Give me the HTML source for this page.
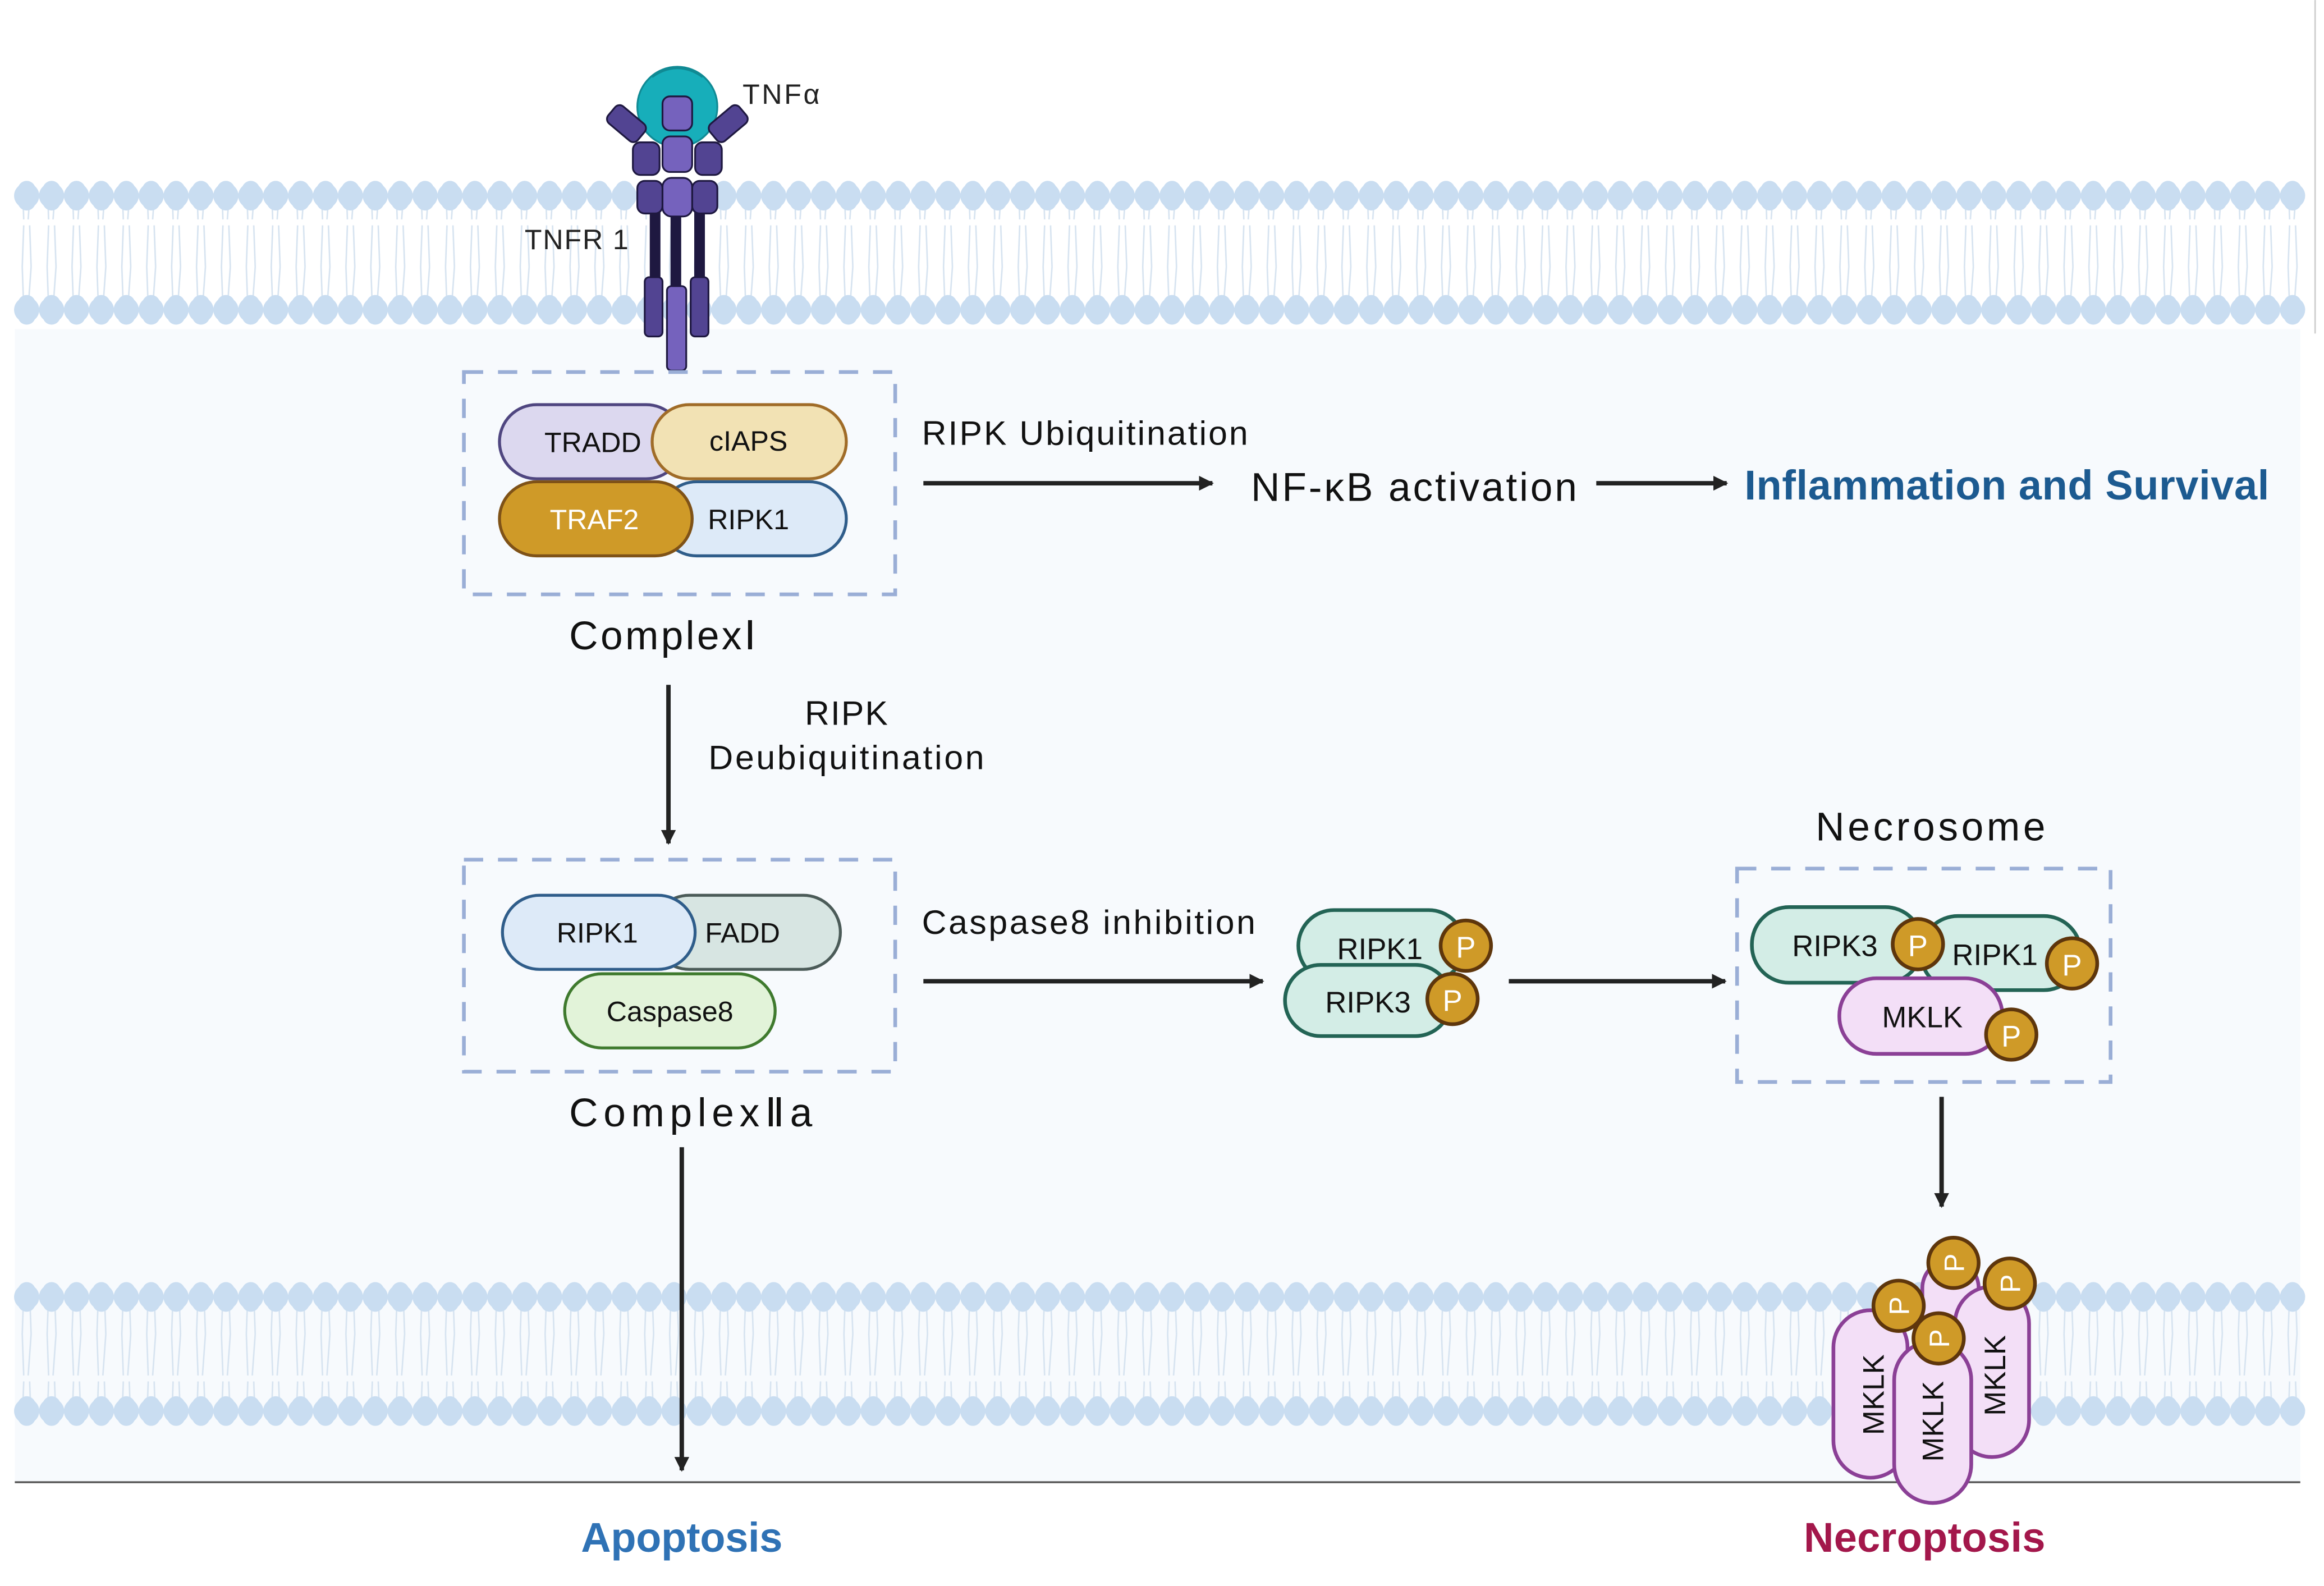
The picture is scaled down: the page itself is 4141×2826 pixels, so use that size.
<!DOCTYPE html>
<html><head><meta charset="utf-8"><style>
html,body{margin:0;padding:0;background:#fff}
svg{display:block}
text{font-family:"Liberation Sans",sans-serif}
</style></head><body>
<svg width="4141" height="2826" viewBox="0 0 1568 1070" xmlns="http://www.w3.org/2000/svg">
<defs>
<marker id="ah" markerWidth="10" markerHeight="10" refX="9" refY="5" orient="auto" markerUnits="userSpaceOnUse">
 <path d="M0 0 L10 5 L0 10 Z" fill="#222"/>
</marker>
<pattern id="tl" x="10" y="0" width="16.8" height="60" patternUnits="userSpaceOnUse">
 <path d="M5 0 L6 28 M11 0 L9 28 M6 32 L5 60 M10 32 L11 60" stroke="#d6e3f0" stroke-width="1" fill="none"/>
</pattern>
</defs>
<rect width="1568" height="1070" fill="#fff"/>
<rect x="10" y="222" width="1542" height="778" fill="#f7fafd"/>
<line x1="1562" y1="0" x2="1562" y2="225" stroke="#ccc" stroke-width="1"/>

<rect x="10" y="140" width="1550" height="62" fill="url(#tl)"/>
<rect x="10" y="883" width="1550" height="62" fill="url(#tl)"/>
<g stroke="#c9ddf1" stroke-width="17" stroke-dasharray="0 16.8" stroke-linecap="round">
 <line x1="18" y1="132" x2="1560" y2="132"/>
 <line x1="18" y1="209" x2="1560" y2="209"/>
 <line x1="18" y1="875" x2="1560" y2="875"/>
 <line x1="18" y1="952" x2="1560" y2="952"/>
</g>
<g stroke="#c9ddf1" stroke-width="12" stroke-dasharray="0 16.8" stroke-linecap="round">
 <line x1="18" y1="128" x2="1560" y2="128"/>
 <line x1="18" y1="136" x2="1560" y2="136"/>
 <line x1="18" y1="205" x2="1560" y2="205"/>
 <line x1="18" y1="213" x2="1560" y2="213"/>
 <line x1="18" y1="871" x2="1560" y2="871"/>
 <line x1="18" y1="879" x2="1560" y2="879"/>
 <line x1="18" y1="948" x2="1560" y2="948"/>
 <line x1="18" y1="956" x2="1560" y2="956"/>
</g>
<line x1="10" y1="1000" x2="1552" y2="1000" stroke="#555" stroke-width="1.3"/>

<!-- TNF receptor -->
<g stroke="#1e1840" stroke-width="1.2">
 <rect x="439" y="140" width="6" height="50" fill="#1e1840"/>
 <rect x="453" y="140" width="6" height="55" fill="#1e1840"/>
 <rect x="469" y="140" width="6" height="50" fill="#1e1840"/>
 <rect x="435" y="187" width="12" height="40" rx="3" fill="#524492"/>
 <rect x="466" y="187" width="12" height="40" rx="3" fill="#524492"/>
 <rect x="450" y="193" width="13" height="57" rx="3" fill="#7562bd"/>
 <circle cx="457" cy="72" r="27" fill="#17aeba" stroke="#108a94"/>
 <path d="M440 52 Q457 40 474 52" fill="none" stroke="#108a94"/>
 <rect x="410" y="76" width="26" height="15" rx="4" fill="#524492" transform="rotate(40 423 83)"/>
 <rect x="478" y="76" width="26" height="15" rx="4" fill="#524492" transform="rotate(-40 491 83)"/>
 <rect x="447" y="65" width="20" height="23" rx="5" fill="#7562bd"/>
 <rect x="427" y="96" width="18" height="22" rx="5" fill="#524492"/>
 <rect x="469" y="96" width="18" height="22" rx="5" fill="#524492"/>
 <rect x="447" y="92" width="20" height="24" rx="5" fill="#7562bd"/>
 <rect x="430" y="122" width="17" height="22" rx="5" fill="#524492"/>
 <rect x="467" y="122" width="17" height="22" rx="5" fill="#524492"/>
 <rect x="447" y="120" width="20" height="26" rx="6" fill="#7562bd"/>
</g>
<text x="501" y="70" font-size="19" fill="#222" textLength="52">TNFα</text>
<text x="354" y="168" font-size="19" fill="#222" textLength="70">TNFR 1</text>

<!-- Complex I -->
<rect x="313" y="251" width="291" height="150" fill="none" stroke="#9aaed6" stroke-width="2.5" stroke-dasharray="13 10"/>
<g stroke-width="2">
 <rect x="337" y="273" width="124" height="50" rx="25" fill="#dcd8ef" stroke="#4f4680"/>
 <rect x="440" y="273" width="131" height="50" rx="25" fill="#f2e2b4" stroke="#a06c28"/>
 <rect x="445" y="325" width="126" height="50" rx="25" fill="#ddeaf8" stroke="#2f5d8a"/>
 <rect x="337" y="325" width="130" height="50" rx="25" fill="#cf9a28" stroke="#7f5217"/>
</g>
<g font-size="19" text-anchor="middle">
 <text x="400" y="305" fill="#111">TRADD</text>
 <text x="505" y="304" fill="#111">cIAPS</text>
 <text x="401" y="357" fill="#fff">TRAF2</text>
 <text x="505" y="357" fill="#111">RIPK1</text>
</g>
<text x="384" y="438" font-size="27" fill="#111" textLength="126">ComplexⅠ</text>

<!-- top arrows -->
<text x="622" y="300" font-size="23" fill="#111" textLength="220">RIPK Ubiquitination</text>
<line x1="623" y1="326" x2="818" y2="326" stroke="#222" stroke-width="3" marker-end="url(#ah)"/>
<text x="844" y="338" font-size="27" fill="#111" textLength="220">NF-κB activation</text>
<line x1="1077" y1="326" x2="1165" y2="326" stroke="#222" stroke-width="3" marker-end="url(#ah)"/>
<text x="1177" y="337" font-size="28" font-weight="bold" fill="#1c5a90" textLength="354">Inflammation and Survival</text>

<!-- down arrow -->
<line x1="451" y1="462" x2="451" y2="569" stroke="#222" stroke-width="3" marker-end="url(#ah)"/>
<text x="543" y="489" font-size="23" fill="#111" textLength="56">RIPK</text>
<text x="478" y="519" font-size="23" fill="#111" textLength="186">Deubiquitination</text>

<!-- Complex IIa -->
<rect x="313" y="580" width="291" height="143" fill="none" stroke="#9aaed6" stroke-width="2.5" stroke-dasharray="13 10"/>
<g stroke-width="2">
 <rect x="440" y="604" width="127" height="50" rx="25" fill="#d7e5e2" stroke="#4b5b58"/>
 <rect x="339" y="604" width="130" height="50" rx="25" fill="#ddeaf8" stroke="#2f5d8a"/>
 <rect x="381" y="657" width="142" height="50" rx="25" fill="#e2f3d9" stroke="#3f7a2e"/>
</g>
<g font-size="19" text-anchor="middle" fill="#111">
 <text x="403" y="636">RIPK1</text>
 <text x="501" y="636">FADD</text>
 <text x="452" y="689">Caspase8</text>
</g>
<text x="384" y="760" font-size="27" fill="#111" textLength="164">ComplexⅡa</text>

<!-- apoptosis arrow -->
<line x1="460" y1="774" x2="460" y2="992" stroke="#222" stroke-width="3" marker-end="url(#ah)"/>
<text x="392" y="1047" font-size="28" font-weight="bold" fill="#2f72b5" textLength="136">Apoptosis</text>

<!-- caspase8 inhibition -->
<text x="622" y="630" font-size="23" fill="#111" textLength="225">Caspase8 inhibition</text>
<line x1="623" y1="662" x2="852" y2="662" stroke="#222" stroke-width="3" marker-end="url(#ah)"/>
<g stroke-width="2.5">
 <rect x="876" y="614" width="112" height="48" rx="24" fill="#d3ede6" stroke="#236455"/>
 <rect x="867" y="651" width="112" height="48" rx="24" fill="#d3ede6" stroke="#236455"/>
</g>
<g font-size="20" fill="#111" text-anchor="middle">
 <text x="931" y="647">RIPK1</text>
 <text x="923" y="683">RIPK3</text>
</g>
<g stroke="#5e360c" stroke-width="2.5" fill="#cf9a28">
 <circle cx="989" cy="638" r="17"/>
 <circle cx="980" cy="674" r="17"/>
</g>
<g font-size="20" fill="#fff" text-anchor="middle">
 <text x="989" y="646">P</text>
 <text x="980" y="682">P</text>
</g>
<line x1="1018" y1="662" x2="1164" y2="662" stroke="#222" stroke-width="3" marker-end="url(#ah)"/>

<!-- Necrosome -->
<text x="1225" y="567" font-size="27" fill="#111" textLength="155">Necrosome</text>
<rect x="1172" y="586" width="252" height="144" fill="none" stroke="#9aaed6" stroke-width="2.5" stroke-dasharray="13 10"/>
<g stroke-width="2.5">
 <rect x="1296" y="618" width="108" height="50" rx="25" fill="#d3ede6" stroke="#236455"/>
 <rect x="1182" y="612" width="115" height="51" rx="25" fill="#d3ede6" stroke="#236455"/>
 <rect x="1241" y="660" width="110" height="51" rx="25" fill="#f3dff7" stroke="#8b4096"/>
</g>
<g font-size="20" fill="#111" text-anchor="middle">
 <text x="1238" y="645">RIPK3</text>
 <text x="1346" y="651">RIPK1</text>
 <text x="1297" y="693">MKLK</text>
</g>
<g stroke="#5e360c" stroke-width="2.5" fill="#cf9a28">
 <circle cx="1294" cy="637" r="17"/>
 <circle cx="1398" cy="650" r="17"/>
 <circle cx="1357" cy="698" r="17"/>
</g>
<g font-size="20" fill="#fff" text-anchor="middle">
 <text x="1294" y="645">P</text>
 <text x="1398" y="658">P</text>
 <text x="1357" y="706">P</text>
</g>
<line x1="1310" y1="740" x2="1310" y2="814" stroke="#222" stroke-width="3" marker-end="url(#ah)"/>

<!-- MKLK pore -->
<g stroke="#8b4096" stroke-width="2.5" fill="#f3dff7">
 <rect x="1297" y="850" width="38" height="80" rx="19"/>
 <rect x="1237" y="884" width="50" height="113" rx="25"/>
 <rect x="1319" y="868" width="50" height="115" rx="25"/>
 <rect x="1278" y="905" width="52" height="109" rx="26"/>
</g>
<g font-size="20" fill="#111" text-anchor="middle">
 <text transform="translate(1271,941) rotate(-90)">MKLK</text>
 <text transform="translate(1311,959) rotate(-90)">MKLK</text>
 <text transform="translate(1353,928) rotate(-90)">MKLK</text>
</g>
<g stroke="#5e360c" stroke-width="2.5" fill="#cf9a28">
 <circle cx="1318" cy="852" r="17"/>
 <circle cx="1356" cy="866" r="17"/>
 <circle cx="1281" cy="881" r="17"/>
 <circle cx="1308" cy="903" r="17"/>
</g>
<g font-size="19" fill="#fff" text-anchor="middle">
 <text transform="translate(1325,852) rotate(-90)">P</text>
 <text transform="translate(1363,866) rotate(-90)">P</text>
 <text transform="translate(1288,881) rotate(-90)">P</text>
 <text transform="translate(1315,903) rotate(-90)">P</text>
</g>
<text x="1217" y="1047" font-size="28" font-weight="bold" fill="#a3174b" textLength="163">Necroptosis</text>
</svg>
</body></html>
